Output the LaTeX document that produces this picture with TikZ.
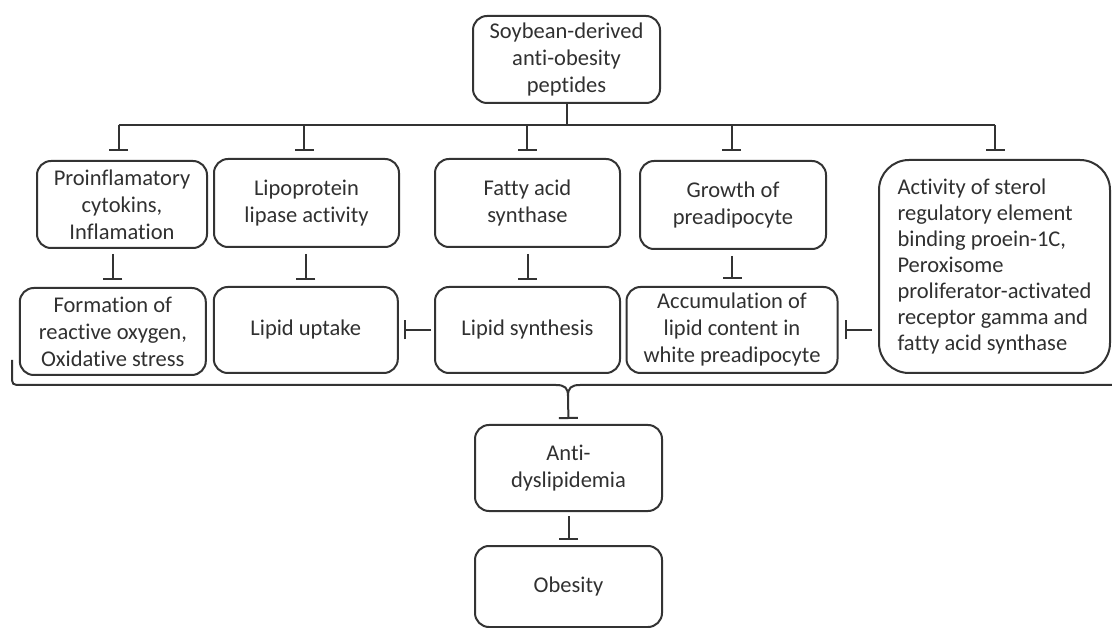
\documentclass[tikz,border=0pt]{standalone}
\usepackage{fontspec}
\setmainfont{Carlito}[Ligatures={NoCommon}]
\usetikzlibrary{arrows.meta}
\definecolor{ink}{HTML}{333333}
\definecolor{txt}{HTML}{303030}
\tikzset{
  box/.style={draw=ink, line width=2pt, rounded corners=14pt, align=center, text=txt,
    font=\fontsize{22.5}{27}\selectfont, inner sep=0pt, anchor=center},
  bigbox/.style={box, rounded corners=30pt, align=left, font=\fontsize{22.5}{26}\selectfont},
  inh/.style={draw=ink, line width=2pt, -{Bar[width=19pt]}},
  ln/.style={draw=ink, line width=2pt}
}
\begin{document}
\begin{tikzpicture}[x=1pt,y=-1pt]
\useasboundingbox (0,0) rectangle (1112,628);
% nodes
\node[box, minimum width=187pt, minimum height=87pt] (top) at (566.5,59.5) {Soybean-derived\\anti-obesity\\peptides};
\node[box, minimum width=170pt, minimum height=87pt] (B1) at (122,204.5) {Proinflamatory\\cytokins,\\Inflamation};
\node[box, minimum width=185pt, minimum height=88pt] (B2) at (306.5,203) {Lipoprotein\\lipase activity};
\node[box, minimum width=185pt, minimum height=88pt] (B3) at (527.5,203) {Fatty acid\\synthase};
\node[box, minimum width=186pt, minimum height=88pt] (B4) at (733,205) {Growth of\\preadipocyte};
\node[bigbox, minimum width=231pt, minimum height=213pt] (B5) at (994.5,266.5) {Activity of sterol\\regulatory element\\binding proein-1C,\\Peroxisome\\proliferator-activated\\receptor gamma and\\fatty acid synthase};
\node[box, minimum width=186pt, minimum height=87pt] (a) at (112.8,331.5) {Formation of\\reactive oxygen,\\Oxidative stress};
\node[box, minimum width=184pt, minimum height=86pt] (b) at (305.8,330) {Lipid uptake};
\node[box, minimum width=185pt, minimum height=86pt] (c) at (527.5,330) {Lipid synthesis};
\node[box, minimum width=211pt, minimum height=86pt] (d) at (732,330) {Accumulation of\\lipid content in\\white preadipocyte};
\node[box, minimum width=187pt, minimum height=86pt] (anti) at (568.5,468) {Anti-\\dyslipidemia};
\node[box, minimum width=187pt, minimum height=81pt] (ob) at (568.5,586.5) {Obesity};
% bus from top
\coordinate (bl) at (118.6,125);
\coordinate (br) at (995,125);
\coordinate (d2) at (304,125);
\coordinate (d3) at (527,125);
\coordinate (d4) at (731.5,125);
\draw[ln] (top.south) -- (top.south |- bl);
\draw[ln] (bl) -- (br);
\draw[inh, shorten >=9pt] (bl) -- (bl |- B1.north);
\draw[inh, shorten >=7pt] (d2) -- (d2 |- B2.north);
\draw[inh, shorten >=7pt] (d3) -- (d3 |- B3.north);
\draw[inh, shorten >=9pt] (d4) -- (d4 |- B4.north);
\draw[inh, shorten >=8pt] (br) -- (br |- B5.north);
% row 1 -> row 2
\draw[inh, shorten <=5pt, shorten >=7pt] (a.north |- B1.south) -- (a.north);
\draw[inh, shorten <=6pt, shorten >=6pt] (b.north |- B2.south) -- (b.north);
\draw[inh, shorten <=6pt, shorten >=6pt] (c.north |- B3.south) -- (c.north);
\draw[inh, shorten <=6pt, shorten >=7pt] (d.north |- B4.south) -- (d.north);
% horizontal inhibitors
\draw[inh, shorten <=3pt, shorten >=5pt] (c.west) -- (b.east);
\draw[inh, shorten <=6pt, shorten >=6pt] (B5.west |- d.east) -- (d.east);
% brace
\coordinate (tip) at (568,396);
\draw[ln] (12,360) -- (12,375) .. controls (12,385) .. (22,385) -- (556,385) .. controls (565,385) and (568,388) .. (tip);
\draw[ln] (1112,385) -- (580,385) .. controls (571,385) and (568,388) .. (tip);
\draw[inh, shorten >=5pt] (tip) -- (anti.north);
% anti -> obesity
\draw[inh, shorten <=4pt, shorten >=5pt] (anti.south) -- (ob.north);
\end{tikzpicture}
\end{document}
